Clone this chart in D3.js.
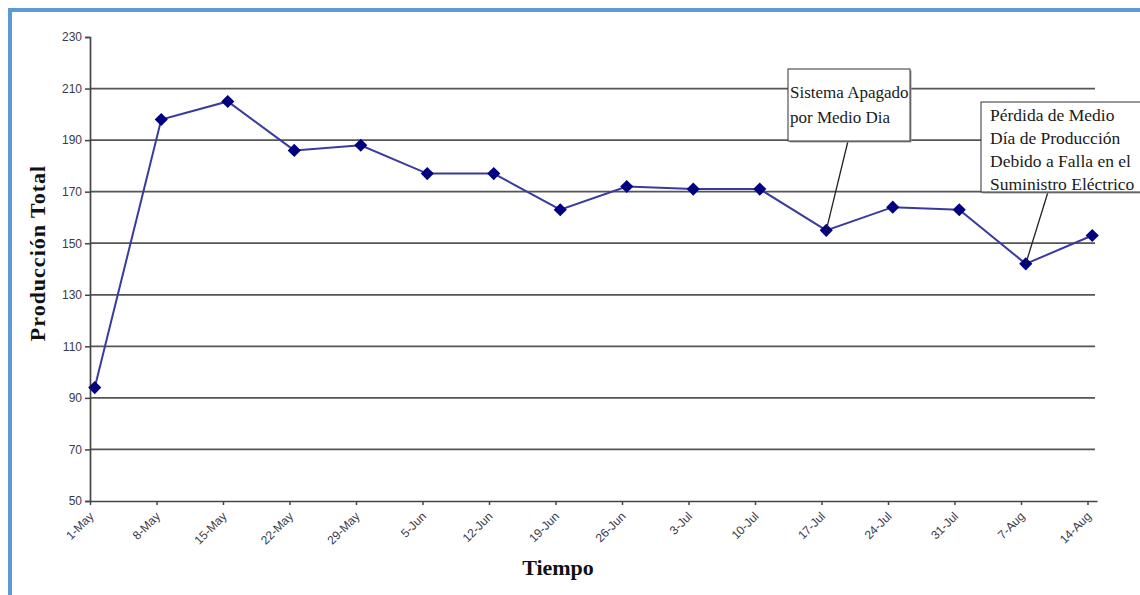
<!DOCTYPE html>
<html>
<head>
<meta charset="utf-8">
<script src="https://cdn.jsdelivr.net/npm/d3@7"></script>
<style>
  html, body { margin: 0; padding: 0; background: #ffffff; }
  svg { display: block; }
</style>
</head>
<body>
<svg id="chart" width="1140" height="595"></svg>
<script>
// Weekly production figures
const fechas = ["1-May", "8-May", "15-May", "22-May", "29-May", "5-Jun", "12-Jun", "19-Jun",
                "26-Jun", "3-Jul", "10-Jul", "17-Jul", "24-Jul", "31-Jul", "7-Aug", "14-Aug"];
const produccion = [94, 198, 205, 186, 188, 177, 177, 163, 172, 171, 171, 155, 164, 163, 142, 153];
const yTicks = [50, 70, 90, 110, 130, 150, 170, 190, 210, 230];

// Callout notes, each pointing at one weekly value
const notaTextos = [
  ["Sistema Apagado", "por Medio Dia"],
  ["Pérdida de Medio", "Día de Producción", "Debido a Falla en el", "Suministro Eléctrico"]
];
const notaFechas = ["17-Jul", "7-Aug"];

const svg = d3.select("#chart");
const parse = d3.timeParse("%d-%b");
const dates = fechas.map(parse);
const endDate = d3.timeDay.offset(dates[dates.length - 1], 1);

const plot = { left: 90, right: 1097, top: 37, bottom: 501 };

const x = d3.scaleTime().domain([dates[0], endDate]).range([plot.left, plot.right]);
const y = d3.scaleLinear().domain([50, 230]).range([plot.bottom, plot.top]);
// each point sits in the middle of its day slot
const px = d => x(d3.timeHour.offset(d, 12));

// outer frame
svg.append("path")
  .attr("d", "M10,600 L10,10 L1150,10")
  .attr("fill", "none")
  .attr("stroke", "#5b9bd5")
  .attr("stroke-width", 4);

// horizontal gridlines
svg.append("g")
  .selectAll("line")
  .data(yTicks.filter(v => v > 50 && v < 230))
  .join("line")
  .attr("x1", plot.left).attr("x2", plot.right - 2)
  .attr("y1", d => y(d)).attr("y2", d => y(d))
  .attr("stroke", "#555")
  .attr("stroke-width", 1.7);

// y axis
const yAxis = svg.append("g")
  .attr("transform", `translate(${plot.left},0)`)
  .call(d3.axisLeft(y).tickValues(yTicks).tickSize(5).tickPadding(3).tickFormat(d3.format("d")));
yAxis.select(".domain").attr("stroke", "#444").attr("stroke-width", 1.7);
yAxis.selectAll(".tick line").attr("stroke", "#444").attr("stroke-width", 1.5);
yAxis.selectAll("text")
  .attr("font-family", "'Liberation Sans', Arial, sans-serif")
  .attr("font-size", 12)
  .attr("fill", "#3a3a4a");

// x axis
const xAxis = svg.append("g")
  .attr("transform", `translate(0,${plot.bottom})`)
  .call(d3.axisBottom(x).tickValues(dates).tickSize(4).tickSizeOuter(0)
        .tickFormat((d, i) => fechas[i]));
xAxis.select(".domain").attr("stroke", "#444").attr("stroke-width", 1.7);
xAxis.selectAll(".tick line").attr("stroke", "#444").attr("stroke-width", 1.5);
xAxis.selectAll("text")
  .attr("font-family", "'Liberation Sans', Arial, sans-serif")
  .attr("font-size", 12)
  .attr("fill", "#3a3a4a")
  .attr("text-anchor", "end")
  .attr("dy", null)
  .attr("y", 0)
  .attr("transform", "translate(4,16) rotate(-45)");

// production line
svg.append("path")
  .datum(produccion)
  .attr("fill", "none")
  .attr("stroke", "#3a3a9e")
  .attr("stroke-width", 2)
  .attr("d", d3.line().x((d, i) => px(dates[i])).y(d => y(d)));

// diamond markers
svg.append("g")
  .selectAll("path")
  .data(produccion)
  .join("path")
  .attr("d", d3.symbol(d3.symbolDiamond2, 110))
  .attr("transform", (d, i) => `translate(${px(dates[i])},${y(d)})`)
  .attr("fill", "#000080");

// axis titles
svg.append("text")
  .attr("x", 558).attr("y", 575)
  .attr("text-anchor", "middle")
  .attr("font-family", "'Liberation Serif', 'Times New Roman', serif")
  .attr("font-weight", "bold")
  .attr("font-size", 22)
  .attr("fill", "#111")
  .text("Tiempo");

svg.append("text")
  .attr("transform", "translate(45,253) rotate(-90)")
  .attr("text-anchor", "middle")
  .attr("font-family", "'Liberation Serif', 'Times New Roman', serif")
  .attr("font-weight", "bold")
  .attr("font-size", 22)
  .attr("letter-spacing", 1)
  .attr("fill", "#111")
  .text("Producción Total");

// callout boxes
const boxes = [
  { x: 788, y: 69, w: 122, h: 72, lineH: 25, first: 29, tx: 2, anchorX: 848, fs: 17 },
  { x: 981, y: 102, w: 160, h: 90, lineH: 23, first: 19, tx: 9, anchorX: 1048, fs: 17.5 }
];

notaTextos.forEach((lines, k) => {
  const b = boxes[k];
  const i = fechas.indexOf(notaFechas[k]);
  const g = svg.append("g");
  g.append("line")
    .attr("x1", b.anchorX).attr("y1", b.y + b.h)
    .attr("x2", px(dates[i])).attr("y2", y(produccion[i]))
    .attr("stroke", "#222")
    .attr("stroke-width", 1.3);
  g.append("rect")
    .attr("x", b.x + 1.5).attr("y", b.y + 1.5)
    .attr("width", b.w).attr("height", b.h)
    .attr("fill", "#9a9a9a");
  g.append("rect")
    .attr("x", b.x).attr("y", b.y)
    .attr("width", b.w).attr("height", b.h)
    .attr("fill", "#fff")
    .attr("stroke", "#333")
    .attr("stroke-width", 1);
  g.selectAll("text")
    .data(lines)
    .join("text")
    .attr("x", b.x + b.tx)
    .attr("y", (d, j) => b.y + b.first + j * b.lineH)
    .attr("font-family", "'Liberation Serif', 'Times New Roman', serif")
    .attr("font-size", b.fs)
    .attr("fill", "#1a1a1a")
    .text(d => d);
});
</script>
</body>
</html>
